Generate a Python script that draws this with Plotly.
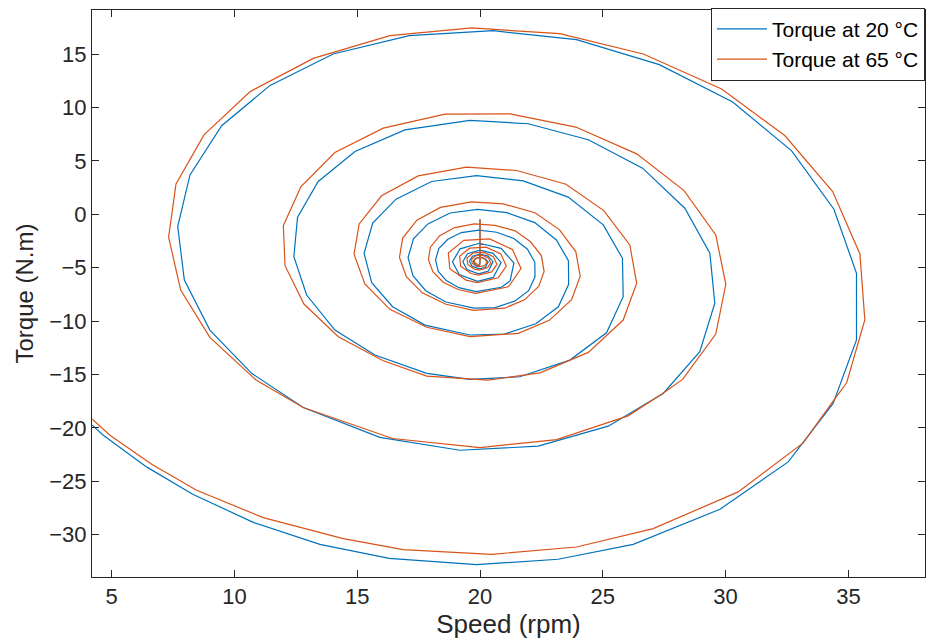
import plotly.graph_objects as go

# Torque at 20 °C (blue) – vertices, outer turn first
speed_20 = [4.21, 4.66, 6.42, 8.30, 10.79, 13.48, 16.30, 19.86, 23.18, 26.24, 29.77, 32.55, 34.38, 35.33, 35.33,
            34.41, 32.69, 30.29, 27.30, 23.93, 20.54, 17.12, 14.02, 11.45, 9.48, 8.19, 7.69, 7.96, 9.0, 10.70,
            12.8, 15.92, 19.18, 22.37, 25.22, 27.46, 28.95, 29.56, 29.36, 28.34, 26.62, 24.41, 21.96, 19.59, 16.94,
            14.91, 13.41, 12.57, 12.42, 12.94, 14.09, 15.72, 17.83, 19.59, 21.62, 23.66, 25.15, 25.83, 25.8,
            25.02, 23.59, 21.76, 19.86, 18.03, 16.58, 15.63, 15.28, 15.59, 16.44, 17.76, 19.59,
            21.0, 22.27, 23.19, 23.61, 23.6, 23.11, 22.23, 21.09, 19.91, 18.78, 17.88, 17.29, 17.07, 17.27, 17.79, 18.61, 19.75,
            20.62, 21.41, 21.98, 22.24, 22.23, 21.93, 21.38, 20.68, 19.95, 19.24, 18.69, 18.32, 18.19, 18.3, 18.63, 19.14, 19.84,
            20.87, 21.23, 21.38, 20.86, 19.97, 19.19, 18.88, 19.15, 19.9,
            20.54, 20.86, 20.53, 20.0, 19.49, 19.3, 19.47, 19.94,
            20.34, 20.53, 20.33, 20.0, 19.69, 19.57, 19.67, 19.96,
            20.21, 20.33, 20.2, 20.0, 19.81, 19.73, 19.8, 19.98,
            20.0, 20.0]
torque_20 = [-19.75, -20.69, -23.66, -26.22, -28.88, -30.91, -32.22, -32.81, -32.31, -30.91, -27.63, -23.19, -17.72, -11.78, -5.53,
             0.47, 5.93, 10.5, 14.0, 16.34, 17.18, 16.72, 15.0, 12.06, 8.28, 3.68, -1.16, -6.16, -10.85, -14.9,
             -18.1, -20.9, -22.1, -21.72, -19.85, -16.78, -12.88, -8.34, -3.66, 0.56, 4.31, 6.97, 8.47, 8.78, 7.9,
             5.87, 3.06, -0.28, -3.97, -7.57, -10.85, -13.19, -14.9, -15.47, -15.22, -13.66, -11.1, -7.72, -4.13,
             -1.0, 1.6, 3.12, 3.62, 3.06, 1.41, -0.84, -3.66, -6.41, -8.66, -10.38, -11.31,
             -11.22, -10.26, -8.67, -6.57, -4.35, -2.41, -0.79, 0.15, 0.46, 0.11, -0.91, -2.31, -4.06, -5.76, -7.16, -8.22, -8.8,
             -8.74, -8.14, -7.16, -5.86, -4.48, -3.28, -2.28, -1.69, -1.5, -1.72, -2.35, -3.22, -4.3, -5.36, -6.22, -6.88, -7.24,
             -6.84, -6.23, -4.56, -3.2, -2.72, -3.24, -4.45, -5.64, -6.28,
             -5.92, -4.52, -3.67, -3.37, -3.7, -4.45, -5.19, -5.58,
             -5.32, -4.45, -3.92, -3.74, -3.94, -4.4, -4.86, -5.11,
             -5.01, -4.47, -4.14, -4.03, -4.15, -4.44, -4.73, -4.88,
             -4.45, -0.47]

# Torque at 65 °C (orange)
speed_65 = [4.21, 4.93, 6.63, 8.46, 11.17, 14.43, 16.87, 20.47, 23.93, 27.05, 30.51, 33.16, 34.49, 34.93, 35.67,
            35.47, 34.36, 32.41, 29.84, 26.65, 23.25, 19.66, 16.33, 13.21, 10.63, 8.76, 7.62, 7.32, 7.81, 9.0,
            10.88, 12.8, 16.44, 20.0, 23.12, 26.03, 27.39, 28.25, 29.6, 30.01, 29.6, 28.31, 26.38, 23.9, 21.22,
            18.57, 16.06, 14.09, 12.71, 11.99, 12.06, 12.83, 14.23, 16.06, 17.83, 20.33, 22.44, 24.41, 25.83,
            26.38, 26.1, 25.04, 23.5, 21.49, 19.45, 17.48, 15.99, 15.08, 14.87, 15.31, 16.33, 17.83, 19.59,
            21.56, 22.82, 23.73, 24.08, 23.9, 23.23, 22.24, 20.95, 19.65, 18.39, 17.43, 16.85, 16.72, 17.0, 17.65, 18.61, 19.74,
            21.0, 21.81, 22.39, 22.61, 22.5, 22.06, 21.43, 20.61, 19.77, 18.97, 18.36, 17.98, 17.9, 18.08, 18.5, 19.11, 19.83,
            21.16, 21.67, 21.32, 20.39, 19.34, 18.71, 18.77, 19.43, 19.89,
            20.74, 21.07, 20.85, 20.25, 19.58, 19.17, 19.21, 19.64, 19.93,
            20.47, 20.69, 20.54, 20.16, 19.73, 19.47, 19.5, 19.77, 19.96,
            20.3, 20.44, 20.35, 20.1, 19.83, 19.66, 19.68, 19.85, 19.97,
            20.19, 20.28, 20.22, 20.07, 19.89, 19.77, 19.79, 19.9, 19.98,
            20.0, 20.0]
torque_65 = [-19.19, -20.69, -23.41, -25.85, -28.41, -30.37, -31.41, -31.85, -31.16, -29.44, -26.0, -21.41, -17.16, -15.78, -9.91,
             -3.72, 2.12, 7.37, 11.72, 15.0, 16.9, 17.44, 16.72, 14.59, 11.47, 7.43, 2.84, -2.16, -7.1, -11.53,
             -15.53, -18.1, -21.0, -21.85, -21.1, -18.88, -16.85, -15.47, -11.22, -6.56, -1.94, 2.21, 5.65, 8.16, 9.4,
             9.37, 8.06, 5.78, 2.59, -1.07, -4.82, -8.41, -11.47, -13.72, -15.16, -15.53, -14.85, -12.94, -9.91,
             -6.47, -2.88, 0.34, 2.81, 4.09, 4.4, 3.59, 1.72, -0.91, -3.75, -6.53, -8.91, -10.59, -11.47,
             -11.16, -9.94, -8.0, -5.8, -3.5, -1.44, 0.14, 0.96, 1.16, 0.64, -0.56, -2.24, -4.06, -5.84, -7.36, -8.43, -9.0,
             -8.8, -8.02, -6.77, -5.37, -3.9, -2.58, -1.56, -1.04, -0.91, -1.25, -2.01, -3.09, -4.25, -5.39, -6.37, -7.05, -7.41,
             -6.79, -5.09, -3.31, -2.32, -2.45, -3.63, -5.11, -6.17, -6.4,
             -5.95, -4.86, -3.72, -3.09, -3.18, -3.93, -4.87, -5.55, -5.7,
             -5.4, -4.7, -3.97, -3.57, -3.62, -4.1, -4.71, -5.14, -5.24,
             -5.02, -4.58, -4.11, -3.85, -3.89, -4.2, -4.58, -4.86, -4.92,
             -4.82, -4.53, -4.23, -4.05, -4.09, -4.29, -4.55, -4.71, -4.75,
             -4.45, -0.47]

x_ticks = [5, 10, 15, 20, 25, 30, 35]
y_ticks = [-30, -25, -20, -15, -10, -5, 0, 5, 10, 15]

FONT = "Liberation Sans, Arial, Helvetica, sans-serif"
AX = "#262626"

fig = go.Figure()
fig.add_trace(go.Scatter(x=speed_20, y=torque_20, mode="lines", name="Torque at 20 °C",
                         line=dict(color="#0072BD", width=1.2)))
fig.add_trace(go.Scatter(x=speed_65, y=torque_65, mode="lines", name="Torque at 65 °C",
                         line=dict(color="#D95319", width=1.2)))

axis_common = dict(showgrid=False, zeroline=False, showline=True, linecolor=AX, linewidth=1,
                   mirror="ticks", ticks="inside", ticklen=7, tickcolor=AX, tickwidth=1,
                   tickfont=dict(family=FONT, size=22, color=AX))

fig.update_xaxes(range=[4.2, 38.12], tickvals=x_ticks,
                 title=dict(text="Speed (rpm)", font=dict(family=FONT, size=26, color=AX), standoff=4),
                 **axis_common)
fig.update_yaxes(range=[-33.97, 19.12], tickvals=y_ticks,
                 title=dict(text="Torque (N.m)", font=dict(family=FONT, size=24, color=AX), standoff=8),
                 **axis_common)

fig.update_layout(
    width=926, height=643,
    margin=dict(l=92, r=1, t=10, b=66),
    paper_bgcolor="white", plot_bgcolor="white",
    font=dict(family=FONT, color=AX),
    legend=dict(x=1, y=1.004, xanchor="right", yanchor="top",
                bgcolor="white", bordercolor=AX, borderwidth=1,
                font=dict(family=FONT, size=21, color="black"),
                itemwidth=50, tracegroupgap=0),
    showlegend=True,
)

fig.write_html("out.html")
